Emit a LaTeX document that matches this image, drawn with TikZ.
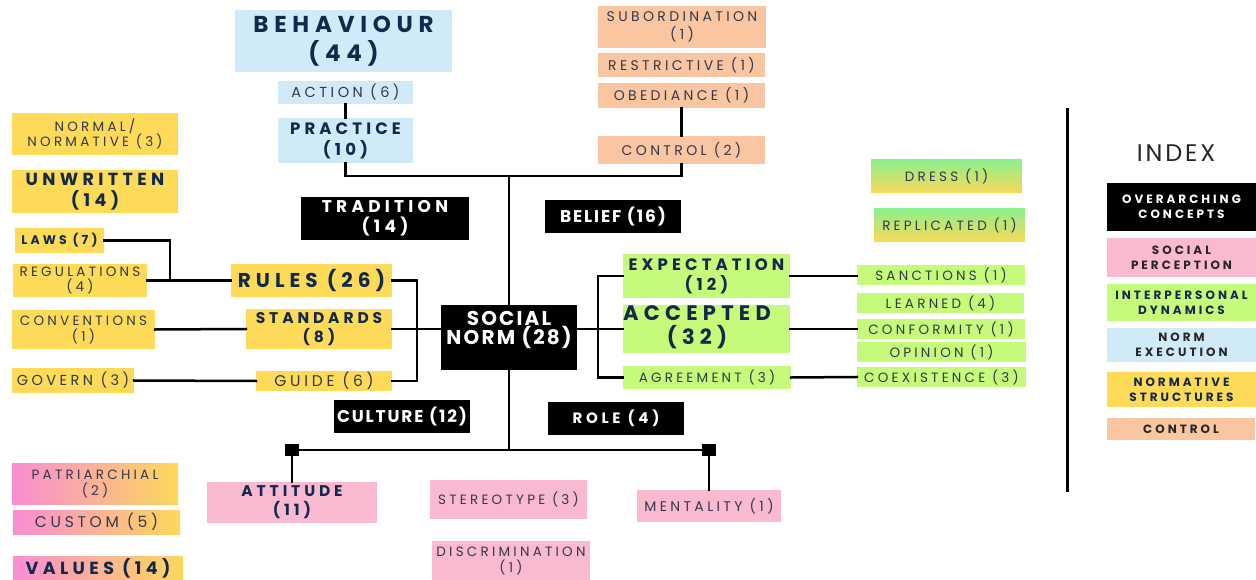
\documentclass[tikz,border=0pt]{standalone}
\usepackage{fontspec}
\newfontfamily\hdf[LetterSpace=25]{Poppins}
\newfontfamily\ltf[LetterSpace=24]{Poppins}
\newfontfamily\snf[LetterSpace=11]{Poppins}
\newfontfamily\ixf[LetterSpace=12]{Poppins}
\newcommand\hd[2]{\hdf\bfseries\fontsize{#1}{#2}\selectfont}
\newcommand\lt[2]{\ltf\fontsize{#1}{#2}\selectfont}
\newcommand\bd[2]{\snf\bfseries\fontsize{#1}{#2}\selectfont}
\definecolor{cblue}{HTML}{D0EAF8}
\definecolor{corg}{HTML}{FAC6A2}
\definecolor{cylw}{HTML}{FDDA57}
\definecolor{cgrn}{HTML}{C6FA7A}
\definecolor{cpnk}{HTML}{F9B9D0}
\definecolor{navy}{HTML}{13294B}
\definecolor{gry}{HTML}{33384A}
\definecolor{gpink}{HTML}{F98DD4}
\definecolor{gyel}{HTML}{FCD85A}
\definecolor{ggrn}{HTML}{8CF08C}
% box from (x1,y1) to (x2,y2), y measured downwards
\newcommand\bx[7]{\node[#6, minimum width=#4pt-#2pt, minimum height=#5pt-#3pt] (#1) at ({(#2+#4)/2},{(#3+#5)/2}) {#7};}
\tikzset{
  box/.style={inner sep=0pt, align=center, anchor=center},
  blu/.style={box, fill=cblue},
  org/.style={box, fill=corg},
  ylw/.style={box, fill=cylw},
  grn/.style={box, fill=cgrn},
  pnk/.style={box, fill=cpnk},
  blk/.style={box, fill=black, text=white},
  gpy/.style={box, left color=gpink, right color=gyel},
  ggy/.style={box, top color=ggrn, bottom color=gyel},
  strong/.style={text=navy},
  soft/.style={text=gry},
  link/.style={line width=2.5pt, line cap=rect},
}
\begin{document}
\begin{tikzpicture}[x=1pt, y=-1pt]
\useasboundingbox (0,0) rectangle (1256,580);

% norm execution
\bx{behav}{235}{10}{452}{72}{blu, strong, font=\hd{23}{29}}{BEHAVIOUR\\(44)}
\bx{action}{278}{81}{413}{104}{blu, soft, font=\lt{14.5}{15}}{ACTION (6)}
\bx{practice}{278}{118}{413}{163}{blu, strong, font=\hd{16.5}{21}}{PRACTICE\\(10)}

% control
\bx{subord}{598}{6}{766}{48}{org, soft, font=\lt{14}{18}}{SUBORDINATION\\(1)}
\bx{restr}{598}{53}{765}{77}{org, soft, font=\lt{14}{15}}{RESTRICTIVE (1)}
\bx{obed}{598}{83}{765}{108}{org, soft, font=\lt{14}{15}}{OBEDIANCE (1)}
\bx{control}{598}{136}{765}{164}{org, soft, font=\lt{14}{15}}{CONTROL (2)}

% overarching concepts
\bx{trad}{301}{197}{469}{240}{blk, font=\hd{17}{20}}{TRADITION\\(14)}
\bx{belief}{545}{200}{681}{233}{blk, font=\bd{17}{18}}{BELIEF (16)}
\bx{sn}{441}{305}{577}{370}{blk}{}
\node[box, text=white, font=\bd{20}{19}] (snt) at (509,330) {SOCIAL\\NORM (28)};
\bx{culture}{334}{400}{470}{433}{blk, font=\bd{17}{18}}{CULTURE (12)}
\bx{role}{548}{402}{684}{435}{blk, font=\hd{15}{16}}{ROLE (4)}

% normative structures
\bx{normal}{12}{113}{178}{155}{ylw, soft, font=\lt{13.5}{15}}{NORMAL/\\NORMATIVE (3)}
\bx{unwritten}{12}{170}{178}{213}{ylw, strong, font=\hd{17.5}{21}}{UNWRITTEN\\(14)}
\bx{laws}{15}{228}{104}{253}{ylw, strong, font=\hd{12.5}{14}}{LAWS (7)}
\bx{regul}{13}{264}{147}{297}{ylw, soft, font=\lt{13.5}{15}}{REGULATIONS\\(4)}
\bx{rules}{231}{264}{392}{297}{ylw, strong, font=\hd{20}{22}}{RULES (26)}
\bx{conv}{12}{310}{155}{349}{ylw, soft, font=\lt{13.5}{16}}{CONVENTIONS\\(1)}
\bx{standards}{246}{309}{392}{349}{ylw, strong, font=\hd{15.5}{19}}{STANDARDS\\(8)}
\bx{govern}{12}{368}{134}{393}{ylw, soft, font=\lt{14.5}{15}}{GOVERN (3)}
\bx{guide}{256}{371}{392}{391}{ylw, soft, font=\lt{15.5}{16}}{GUIDE (6)}

% interpersonal dynamics
\bx{expect}{623}{254}{790}{298}{grn, strong, font=\hd{16.5}{20}}{EXPECTATION\\(12)}
\bx{accepted}{623}{305}{790}{353}{grn}{}
\node[box, strong, font=\hd{21}{24}] (acct) at (697,327) {ACCEPTED\\(32)};
\bx{agree}{623}{366}{791}{389}{grn, soft, font=\lt{13.5}{15}}{AGREEMENT (3)}
\bx{dress}{871}{160}{1022}{193}{ggy, soft, font=\lt{13.5}{15}}{DRESS (1)}
\bx{replic}{874}{209}{1025}{242}{ggy, soft, font=\lt{13.5}{15}}{REPLICATED (1)}
\bx{sanct}{857}{265}{1025}{285}{grn, soft, font=\lt{13.5}{15}}{SANCTIONS (1)}
\bx{learned}{857}{293}{1024}{313}{grn, soft, font=\lt{13.5}{15}}{LEARNED (4)}
\bx{conform}{857}{319}{1025}{339}{grn, soft, font=\lt{13.5}{15}}{CONFORMITY (1)}
\bx{opinion}{857}{342}{1026}{362}{grn, soft, font=\lt{13.5}{15}}{OPINION (1)}
\bx{coexist}{857}{367}{1026}{387}{grn, soft, font=\lt{13.5}{15}}{COEXISTENCE (3)}

% social perception
\bx{attitude}{207}{482}{377}{523}{pnk, strong, font=\hd{15.5}{19}}{ATTITUDE\\(11)}
\bx{stereo}{430}{480}{587}{519}{pnk, soft, font=\lt{13.5}{15}}{STEREOTYPE (3)}
\bx{mental}{637}{490}{781}{522}{pnk, soft, font=\lt{14}{15}}{MENTALITY (1)}
\bx{discr}{432}{541}{590}{580}{pnk, soft, font=\lt{13.5}{16}}{DISCRIMINATION\\(1)}
\bx{patri}{12}{463}{178}{504}{gpy, soft, font=\lt{13.5}{16}}{PATRIARCHIAL\\(2)}
\bx{custom}{13}{510}{180}{534}{gpy, soft, font=\lt{15.5}{16}}{CUSTOM (5)}
\bx{values}{13}{556}{183}{580}{gpy, strong, font=\hd{17.5}{20}}{VALUES (14)}

% index
\node[font=\ixf\fontsize{24}{26}\selectfont, text=black!85] (indext) at (1176,153) {INDEX};
\bx{ioc}{1107}{183}{1256}{231}{blk, font=\hd{12}{15}}{OVERARCHING\\CONCEPTS}
\bx{isp}{1107}{238}{1256}{277}{pnk, text=black!85, font=\hd{12}{15}}{SOCIAL\\PERCEPTION}
\bx{iid}{1107}{284}{1256}{321}{grn, strong, font=\hd{12}{15}}{INTERPERSONAL\\DYNAMICS}
\bx{ine}{1107}{328}{1256}{362}{blu, text=black!85, font=\hd{12}{15}}{NORM\\EXECUTION}
\bx{ins}{1107}{372}{1256}{407}{ylw, strong, font=\hd{12}{15}}{NORMATIVE\\STRUCTURES}
\bx{ictl}{1107}{418}{1255}{440}{org, text=black!85, font=\hd{12}{15}}{CONTROL}

% junction points
\coordinate (top) at (509,176);
\coordinate (bot) at (509,450);
\coordinate (jl) at (170,280);
\coordinate (rb) at (417,330);
\coordinate (lb) at (598,330);
\coordinate (dt) at (1067,108);
\coordinate (db) at (1067,492);
\node[fill=black, minimum width=14pt, minimum height=12pt, inner sep=0pt] (sqa) at (292,450) {};
\node[fill=black, minimum width=14pt, minimum height=12pt, inner sep=0pt] (sqm) at (709,450) {};

% connectors
\draw[link] (action) -- (practice);
\draw[link] (obed) -- (control);
\draw[link] (practice.south) |- (top) -| (control.south);
\draw[link] (top) -- (sn.north);
\draw[link] (sn.south) -- (bot);
\draw[link] (sqa) -- (sqm);
\draw[link] (sqa) -- (attitude.north);
\draw[link] (sqm) -- (mental.north);

\draw[link] (laws.east) -| (jl);
\draw[link] (regul.east) -- (rules.west);
\draw[link] (conv.east) -- (standards.west);
\draw[link] (govern.east) -- (guide.west);
\draw[link] (rules.east) -| (rb);
\draw[link] (guide.east) -| (rb);
\draw[link] (standards.east) -- (standards.east -| sn.west);

\draw[link] (sn.east |- accepted.west) -- (accepted.west);
\draw[link] (expect.west) -| (lb);
\draw[link] (agree.west) -| (lb);
\draw[link] (expect.east) -- (expect.east -| sanct.west);
\draw[link] (accepted.east) -- (conform.west);
\draw[link] (agree.east) -- (coexist.west);

\draw[line width=3pt] (dt) -- (db);
\end{tikzpicture}
\end{document}
